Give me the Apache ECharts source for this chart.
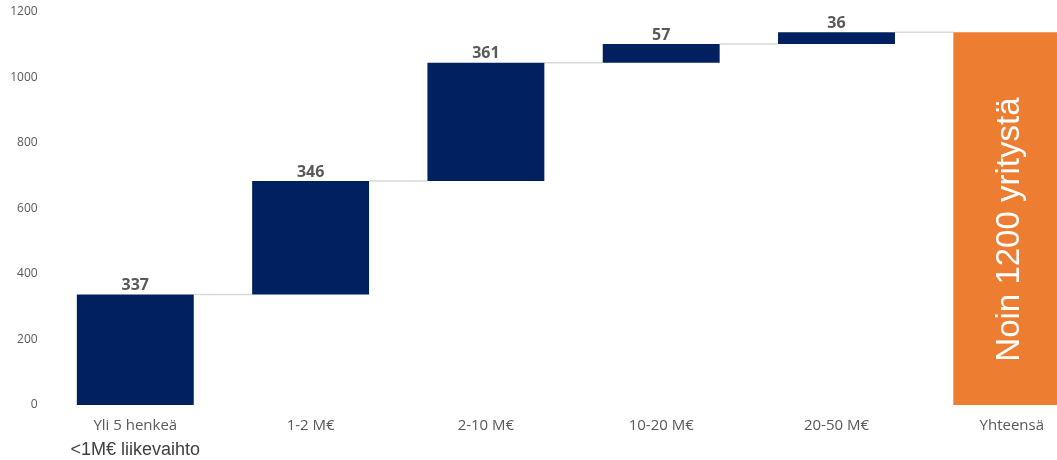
<!DOCTYPE html>
<html>
<head>
<meta charset="utf-8">
<script src="https://cdn.jsdelivr.net/npm/echarts@6/dist/echarts.min.js"></script>
<style>
html,body{margin:0;padding:0;background:#fff;}
#chart{width:1057px;height:460px;}
</style>
</head>
<body>
<div id="chart"></div>
<script>
// ---- data ----
const categories = ['Yli 5 henkeä\n<1M€ liikevaihto', '1-2 M€', '2-10 M€', '10-20 M€', '20-50 M€', 'Yhteensä'];
const stepValues = [337, 346, 361, 57, 36];
const totalLabel = 'Noin 1200 yritystä';
const yTicks = [0, 200, 400, 600, 800, 1000, 1200];

// ---- derived ----
const total = stepValues.reduce((a, b) => a + b, 0);
const bases = [];
const cums = [];
let run = 0;
stepValues.forEach(v => { bases.push(run); run += v; cums.push(run); });
bases.push(0);

const navy = '#002060';
const orange = '#ED7D31';
const barFrac = 0.667;

const valueData = stepValues.map(v => ({ value: v }));
valueData.push({
  value: total,
  itemStyle: { color: orange },
  label: {
    show: true,
    position: 'inside',
    rotate: 90,
    formatter: totalLabel,
    color: '#ffffff',
    fontFamily: 'Liberation Sans',
    fontWeight: 'normal',
    fontSize: 33,
    offset: [-11, -2]
  }
});

const connectorData = cums.map((c, i) => [i, c]);

const chart = echarts.init(document.getElementById('chart'), null, { renderer: 'canvas' });
chart.setOption({
  animation: false,
  backgroundColor: '#ffffff',
  grid: { left: 47.65, top: 11.5, bottom: 55, width: 1051.8, outerBoundsMode: 'none', containLabel: false },
  xAxis: {
    type: 'category',
    data: categories,
    axisLine: { show: false },
    axisTick: { show: false },
    splitLine: { show: false },
    axisLabel: {
      interval: 0,
      margin: 11,
      formatter: function (v) {
        const parts = v.split('\n');
        if (parts.length > 1) return '{a|' + parts[0] + '}\n{b|' + parts[1] + '}';
        return '{a|' + v + '}';
      },
      rich: {
        a: { fontFamily: 'Open Sans', fontSize: 15, lineHeight: 20, color: '#595959' },
        b: { fontFamily: 'Liberation Sans', fontSize: 18, lineHeight: 28, color: '#404040' }
      }
    }
  },
  yAxis: {
    type: 'value',
    min: yTicks[0],
    max: yTicks[yTicks.length - 1],
    interval: yTicks[1] - yTicks[0],
    axisLine: { show: false },
    axisTick: { show: false },
    splitLine: { show: false },
    axisLabel: {
      margin: 10,
      fontFamily: 'Open Sans',
      fontSize: 12,
      color: '#595959',
      formatter: function (v) { return String(v); }
    }
  },
  series: [
    {
      type: 'bar',
      stack: 'w',
      barWidth: (barFrac * 100) + '%',
      itemStyle: { color: 'transparent' },
      emphasis: { disabled: true },
      data: bases
    },
    {
      type: 'bar',
      stack: 'w',
      barWidth: (barFrac * 100) + '%',
      itemStyle: { color: navy },
      label: {
        show: true,
        position: 'top',
        distance: 1,
        fontFamily: 'Open Sans',
        fontWeight: 'bold',
        fontSize: 16,
        color: '#595959'
      },
      data: valueData
    },
    {
      type: 'custom',
      silent: true,
      z: 1,
      renderItem: function (params, api) {
        const i = api.value(0);
        const y = api.value(1);
        const p1 = api.coord([i, y]);
        const p2 = api.coord([i + 1, y]);
        const half = api.size([1, 0])[0] * barFrac / 2;
        return {
          type: 'line',
          shape: { x1: p1[0] + half, y1: p1[1], x2: p2[0] - half, y2: p2[1] },
          style: { stroke: '#d9d9d9', lineWidth: 1.5 }
        };
      },
      data: connectorData
    }
  ]
});
</script>
</body>
</html>
